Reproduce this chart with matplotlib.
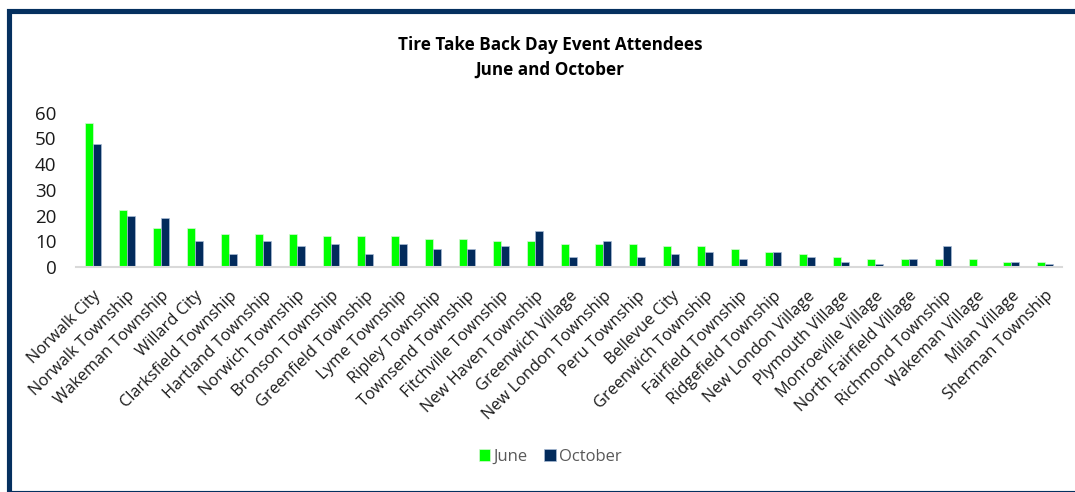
import numpy as np
import matplotlib
matplotlib.use('Agg')
import matplotlib.pyplot as plt
from matplotlib.patches import Rectangle

# Attendees per community
towns = ['Norwalk City', 'Norwalk Township', 'Wakeman Township', 'Willard City',
         'Clarksfield Township', 'Hartland Township', 'Norwich Township',
         'Bronson Township', 'Greenfield Township', 'Lyme Township',
         'Ripley Township', 'Townsend Township', 'Fitchville Township',
         'New Haven Township', 'Greenwich Village', 'New London Township',
         'Peru Township', 'Bellevue City', 'Greenwich Township',
         'Fairfield Township', 'Ridgefield Township', 'New London Village',
         'Plymouth Village', 'Monroeville Village', 'North Fairfield Village',
         'Richmond Township', 'Wakeman Village', 'Milan Village',
         'Sherman Township']
june = [56, 22, 15, 15, 13, 13, 13, 12, 12, 12, 11, 11, 10, 10, 9, 9, 9, 8, 8,
        7, 6, 5, 4, 3, 3, 3, 3, 2, 2]
october = [48, 20, 19, 10, 5, 10, 8, 9, 5, 9, 7, 7, 8, 14, 4, 10, 4, 5, 6,
           3, 6, 4, 2, 1, 3, 8, 0, 2, 1]
yticks = [0, 10, 20, 30, 40, 50, 60]

green = '#00ff00'
navy = '#022b5c'

plt.rcParams['font.family'] = ['Open Sans', 'DejaVu Sans']

W, H = 1075, 492
fig = plt.figure(figsize=(W / 100, H / 100), dpi=100)

# dark frame round the chart (right edge runs off the picture)
fig.patches.append(Rectangle((8.5 / W, -1.0 / H), 1.2, 1 - 10.5 / H + 1.0 / H,
                             transform=fig.transFigure, fill=False,
                             edgecolor='#05305f', linewidth=3.7, zorder=0))

ax = fig.add_axes([76 / W, 1 - 267 / H, (1062 - 76) / W, (267 - 112.7) / H])

x = np.arange(len(towns))
w = 0.235
ax.bar(x - 0.125, june, width=w, color=green, edgecolor='#d8f5d8', linewidth=0.5, label='June')
ax.bar(x + 0.125, october, width=w, color=navy, edgecolor='#a9bcd4', linewidth=0.5, label='October')

ax.set_xlim(-0.5, len(towns) - 0.5)
ax.set_ylim(0, 60)
ax.set_yticks(yticks)
ax.tick_params(axis='y', length=0, labelsize=13.5, pad=14, labelcolor='#1a1a1a')
ax.set_xticks(x)
ax.set_xticklabels(towns, rotation=45, ha='right', va='top', rotation_mode='anchor',
                   fontsize=11.8, color='#1a1a1a')
ax.tick_params(axis='x', length=0, pad=15)
for s in ['top', 'right', 'left']:
    ax.spines[s].set_visible(False)
ax.spines['bottom'].set_color('#d9d9d9')
ax.spines['bottom'].set_linewidth(1.5)

fig.text(0.5115, 1 - 45 / H, 'Tire Take Back Day Event Attendees', ha='center', va='center',
         fontsize=12.3, fontweight='bold')
fig.text(0.5115, 1 - 70 / H, 'June and October', ha='center', va='center',
         fontsize=12.3, fontweight='bold')

leg = fig.legend(loc='center', bbox_to_anchor=(0.512, 1 - 457 / H), ncol=2, frameon=False,
                 fontsize=12, handlelength=0.7, handleheight=0.7, handletextpad=0.2,
                 columnspacing=1.0)
for t in leg.get_texts():
    t.set_color('#595959')

fig.savefig('out.png', dpi=100)
